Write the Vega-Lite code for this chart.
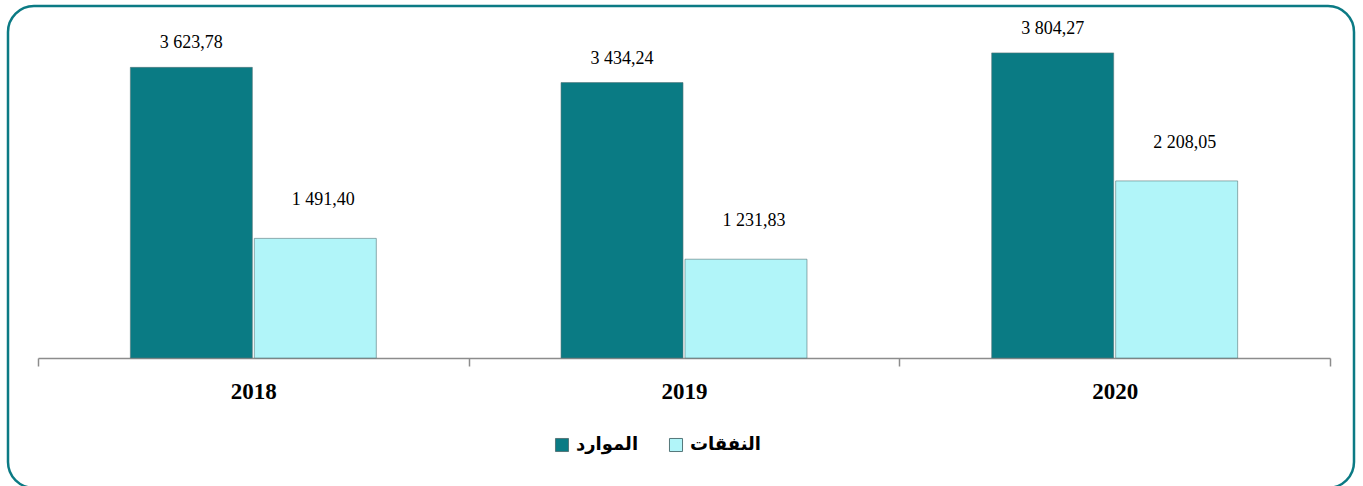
{
  "$schema": "https://vega.github.io/schema/vega-lite/v6.json",
  "width": 1346,
  "height": 482,
  "autosize": {"type": "none"},
  "padding": {"left": 8, "top": 6, "right": 9, "bottom": 0},
  "background": "white",
  "config": {
    "view": {"stroke": "#0b7a84", "strokeWidth": 2.5, "cornerRadius": 26, "fill": "white"}
  },
  "data": {
    "values": [
      {"year": "2018", "series": "الموارد", "value": 3623.78, "label": "3 623,78"},
      {"year": "2018", "series": "النفقات", "value": 1491.40, "label": "1 491,40"},
      {"year": "2019", "series": "الموارد", "value": 3434.24, "label": "3 434,24"},
      {"year": "2019", "series": "النفقات", "value": 1231.83, "label": "1 231,83"},
      {"year": "2020", "series": "الموارد", "value": 3804.27, "label": "3 804,27"},
      {"year": "2020", "series": "النفقات", "value": 2208.05, "label": "2 208,05"}
    ]
  },
  "encoding": {
    "x": {
      "field": "year", "type": "nominal",
      "scale": {"range": [30, 1322], "paddingInner": 0, "paddingOuter": 0},
      "axis": {
        "title": null, "labelAngle": 0,
        "labelFont": "Liberation Serif", "labelFontSize": 23, "labelFontWeight": "bold", "labelColor": "#000000",
        "domainColor": "#8c8c8c", "domainWidth": 1.5,
        "tickColor": "#8c8c8c", "tickWidth": 1.5, "tickSize": 8, "tickBand": "extent",
        "offset": -130, "labelPadding": 14, "grid": false
      }
    },
    "xOffset": {
      "field": "series", "type": "nominal",
      "sort": ["الموارد", "النفقات"],
      "scale": {"paddingInner": 0.016, "paddingOuter": 0.745}
    },
    "y": {
      "field": "value", "type": "quantitative",
      "scale": {"domain": [-1621, 4389], "nice": false, "zero": false},
      "axis": null
    }
  },
  "layer": [
    {
      "mark": {"type": "bar", "stroke": "#55777a", "strokeWidth": 1, "strokeOpacity": 0.6},
      "encoding": {
        "color": {
          "field": "series", "type": "nominal",
          "scale": {"domain": ["الموارد", "النفقات"], "range": ["#0a7b84", "#b1f5f9"]},
          "legend": {
            "orient": "none", "legendX": 545, "legendY": 430, "direction": "horizontal",
            "title": null, "padding": 0,
            "labelFont": "DejaVu Sans", "labelFontSize": 18, "labelFontWeight": "bold", "labelColor": "#000000",
            "symbolType": "square", "symbolSize": 170, "symbolStrokeWidth": 1, "symbolStrokeColor": "#55777a",
            "columnPadding": 28, "labelOffset": 5
          }
        }
      }
    },
    {
      "transform": [{"filter": "datum.series == 'الموارد'"}],
      "mark": {"type": "text", "baseline": "alphabetic", "dy": -19, "font": "Liberation Serif", "fontSize": 18, "color": "#000000"},
      "encoding": {"text": {"field": "label"}}
    },
    {
      "transform": [{"filter": "datum.series == 'النفقات'"}],
      "mark": {"type": "text", "baseline": "alphabetic", "dy": -33, "dx": 8, "font": "Liberation Serif", "fontSize": 18, "color": "#000000"},
      "encoding": {"text": {"field": "label"}}
    }
  ]
}
